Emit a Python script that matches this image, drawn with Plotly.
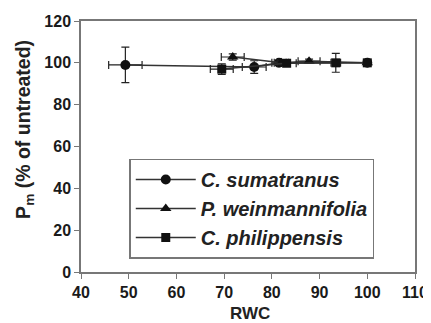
import plotly.graph_objects as go

names = ["C. sumatranus", "P. weinmannifolia", "C. philippensis"]
symbols = ["circle", "triangle-up", "square"]

sum_x = [100, 81.5, 76.3, 49.3]
sum_y = [100, 100, 98, 99]
sum_xe = [0, 1.5, 2.5, 3.5]
sum_ye = [0, 1, 3, 8.5]

wei_x = [100, 87.8, 82, 71.8]
wei_y = [100, 100.8, 100, 102.8]
wei_xe = [0, 2.3, 1.5, 2.4]
wei_ye = [0, 1, 1, 1.5]

phi_x = [100, 93.4, 83.1, 69.5]
phi_y = [100, 100, 99.8, 97]
phi_xe = [0, 1, 2, 2.4]
phi_ye = [0, 4.5, 1.5, 2.5]

x_ticks = [40, 50, 60, 70, 80, 90, 100, 110]
y_ticks = [0, 20, 40, 60, 80, 100, 120]
x_title = "RWC"
y_title = "P<sub>m</sub> (% of untreated)"

series = [
    (sum_x, sum_y, sum_xe, sum_ye),
    (wei_x, wei_y, wei_xe, wei_ye),
    (phi_x, phi_y, phi_xe, phi_ye),
]

font = "Liberation Sans, Arial, sans-serif"
fig = go.Figure()
for name, sym, (xs, ys, xe, ye) in zip(names, symbols, series):
    fig.add_trace(go.Scatter(
        x=xs, y=ys, name="<b><i>" + name + "</i></b>", mode="lines+markers",
        line=dict(color="#333333", width=1.5),
        marker=dict(symbol=sym, size=10 if sym != "square" else 9, color="#111111"),
        error_x=dict(type="data", array=xe, color="#222222", thickness=1.2, width=4),
        error_y=dict(type="data", array=ye, color="#222222", thickness=1.2, width=4),
    ))

# page body has an 8px margin; figure sized so the plot lands where the reference has it
fig.update_layout(
    width=423, height=315,
    margin=dict(l=73, r=16, t=13, b=51, autoexpand=False),
    paper_bgcolor="white", plot_bgcolor="white",
    font=dict(family=font, size=16, color="#222222"),
    showlegend=True,
    legend=dict(
        x=0.1445, y=0.452, xanchor="left", yanchor="top",
        bordercolor="#777777", borderwidth=1.5, bgcolor="white",
        font=dict(family=font, size=20, color="#222222"),
        tracegroupgap=0, itemwidth=60,
    ),
    xaxis=dict(
        range=[40, 110], tickvals=x_ticks, ticktext=["<b>%d</b>" % v for v in x_ticks],
        ticks="outside", ticklen=5, tickcolor="#777777",
        showline=True, linecolor="#777777", linewidth=1.5, mirror=True,
        showgrid=False, zeroline=False, automargin=False,
        tickfont=dict(size=16, weight="bold", color="#1a1a1a"),
    ),
    yaxis=dict(
        range=[0, 120], tickvals=y_ticks, ticktext=["<b>%d</b>" % v for v in y_ticks],
        ticks="outside", ticklen=5, tickcolor="#777777",
        showline=True, linecolor="#777777", linewidth=1.5, mirror=True,
        showgrid=False, zeroline=False, automargin=False,
        tickfont=dict(size=16, weight="bold", color="#1a1a1a"),
    ),
    annotations=[
        dict(text="<b>" + x_title + "</b>", xref="paper", yref="paper",
             x=0.505, y=-0.164, xanchor="center", yanchor="middle",
             showarrow=False, font=dict(size=17)),
        dict(text="<b>" + y_title + "</b>", xref="paper", yref="paper",
             x=-0.1696, y=0.5676, xanchor="center", yanchor="middle",
             textangle=-90, showarrow=False, font=dict(size=19.5)),
    ],
)

fig.write_html("out.html")
